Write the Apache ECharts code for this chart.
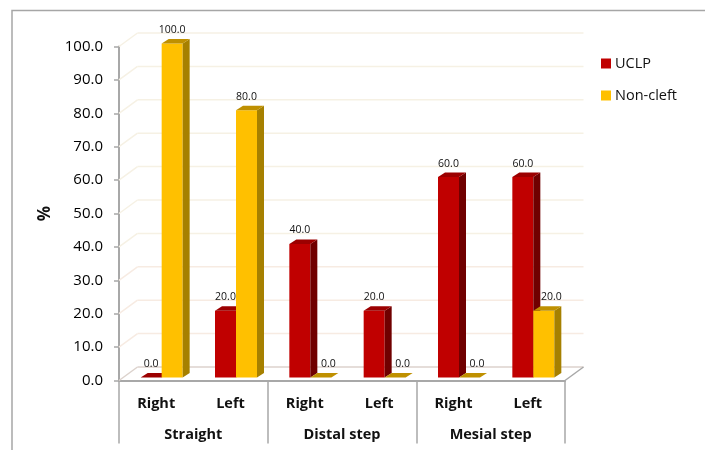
<!DOCTYPE html>
<html>
<head>
<meta charset="utf-8">
<style>html,body{margin:0;padding:0;background:#fff}#chart{width:705px;height:450px}</style>
<script src="https://cdn.jsdelivr.net/npm/echarts@6/dist/echarts.min.js"></script>
</head>
<body>
<div id="chart"></div>
<script>
// Occlusion pattern by side and group, as percentages
const sides = ['Right', 'Left', 'Right', 'Left', 'Right', 'Left'];
const groups = ['Straight', 'Distal step', 'Mesial step'];
const uclp = [0, 20, 40, 20, 60, 60];
const nonCleft = [100, 80, 0, 0, 0, 20];
const yTicks = [0, 10, 20, 30, 40, 50, 60, 70, 80, 90, 100];

const FONT = '"Open Sans", sans-serif';
const AXIS_GREY = '#a8a8a8';

// Pseudo-3D column: front face, side face, top face, value label.
// A label is nudged right when the neighbouring column rises past this one.
function column(shift, front, side, top, neighbour) {
  const barW = 21, depthX = 7, depthY = 4.5, inset = 3, groupShift = 5.5;
  return function (params, api) {
    const val = api.value(1);
    const cat = api.value(0);
    const c = api.coord([cat, val]);
    const base = api.coord([cat, 0])[1] - inset;
    const y = c[1] - inset;
    const x0 = c[0] + groupShift + shift * barW;
    const x1 = x0 + barW;
    const nudge = neighbour && neighbour[cat] > val ? 7.5 : 0;
    const children = [];
    if (val > 0) {
      children.push({ type: 'rect', shape: { x: x0, y: y, width: barW, height: base - y }, style: { fill: front } });
      children.push({ type: 'polygon', shape: { points: [[x1, y], [x1 + depthX, y - depthY], [x1 + depthX, base - depthY], [x1, base]] }, style: { fill: side } });
    }
    children.push({ type: 'polygon', shape: { points: [[x0, y], [x0 + depthX, y - depthY], [x1 + depthX, y - depthY], [x1, y]] }, style: { fill: top } });
    children.push({
      type: 'text',
      style: {
        x: x0 + barW / 2 + nudge, y: y - 8,
        text: val.toFixed(1), align: 'center', verticalAlign: 'bottom',
        font: '10.5px ' + FONT, fill: '#111'
      }
    });
    return { type: 'group', children: children };
  };
}

// Back wall and floor edges behind the columns
function wallLine(params, api) {
  const cs = params.coordSys;
  const v = api.value(1);
  const y = api.coord([0, v])[1];
  const dx = 18.5, dy = -13.5;
  const colour = v === 0 ? '#dcd2cc' : (v <= 30 ? '#f7ebe2' : '#f6f1e4');
  const children = [
    { type: 'line', shape: { x1: cs.x, y1: y, x2: cs.x + dx, y2: y + dy }, style: { stroke: colour, lineWidth: 1.5 } },
    { type: 'line', shape: { x1: cs.x + dx, y1: y + dy, x2: cs.x + cs.width + dx, y2: y + dy }, style: { stroke: colour, lineWidth: 1.5 } }
  ];
  if (v === 0) {
    children.push({ type: 'line', shape: { x1: cs.x + cs.width, y1: y, x2: cs.x + cs.width + dx, y2: y + dy }, style: { stroke: AXIS_GREY, lineWidth: 1.5 } });
  }
  return { type: 'group', children: children };
}

const chart = echarts.init(document.getElementById('chart'), null, { renderer: 'canvas' });
chart.setOption({
  animation: false,
  backgroundColor: '#ffffff',
  graphic: [{
    type: 'rect', silent: true, z: -10,
    shape: { x: 12, y: 10.5, width: 720, height: 470 },
    style: { fill: 'none', stroke: '#a6a6a6', lineWidth: 1.5 }
  }],
  legend: {
    data: ['UCLP', 'Non-cleft'],
    orient: 'vertical',
    left: 596, top: 51,
    itemWidth: 10, itemHeight: 10, itemGap: 17,
    icon: 'rect',
    textStyle: { fontFamily: FONT, fontSize: 14.5, color: '#111', padding: [0, 0, 0, -1] }
  },
  grid: { left: 119, right: 140, top: 46.5, bottom: 69.5 },
  xAxis: [
    {
      type: 'category', data: sides, position: 'bottom',
      axisLine: { lineStyle: { color: AXIS_GREY, width: 2 } },
      axisTick: { show: false },
      axisLabel: { interval: 0, margin: 16, fontFamily: FONT, fontSize: 14.5, fontWeight: 'bold', color: '#111' }
    },
    {
      type: 'category', data: groups, position: 'bottom',
      axisLine: { show: false },
      axisTick: { show: true, length: 63, lineStyle: { color: AXIS_GREY, width: 1.5 } },
      axisLabel: { interval: 0, margin: 47, fontFamily: FONT, fontSize: 14.5, fontWeight: 'bold', color: '#111' }
    }
  ],
  yAxis: {
    type: 'value', min: 0, max: 100, interval: 10,
    name: '%', nameLocation: 'middle', nameGap: 64, nameRotate: 90,
    nameTextStyle: { fontFamily: FONT, fontSize: 17, fontWeight: 'bold', color: '#111' },
    axisLine: { show: true, lineStyle: { color: AXIS_GREY, width: 2 } },
    axisTick: { show: true, length: 5, lineStyle: { color: AXIS_GREY, width: 1.5 } },
    axisLabel: { margin: 16, fontFamily: FONT, fontSize: 15, color: '#000', formatter: v => v.toFixed(1) },
    splitLine: { show: false }
  },
  series: [
    {
      name: 'wall', type: 'custom', z: 1, silent: true, xAxisIndex: 0,
      renderItem: wallLine, encode: { x: 0, y: 1 },
      data: yTicks.map(v => [0, v])
    },
    {
      name: 'UCLP', type: 'custom', z: 2, xAxisIndex: 0, clip: false,
      itemStyle: { color: '#c00000' },
      renderItem: column(-1, '#c00000', '#700000', '#9c0000'), encode: { x: 0, y: 1 },
      data: uclp.map((v, i) => [i, v])
    },
    {
      name: 'Non-cleft', type: 'custom', z: 3, xAxisIndex: 0, clip: false,
      itemStyle: { color: '#ffc000' },
      renderItem: column(0, '#ffc000', '#a68000', '#bf9000', uclp), encode: { x: 0, y: 1 },
      data: nonCleft.map((v, i) => [i, v])
    }
  ]
});
</script>
</body>
</html>
